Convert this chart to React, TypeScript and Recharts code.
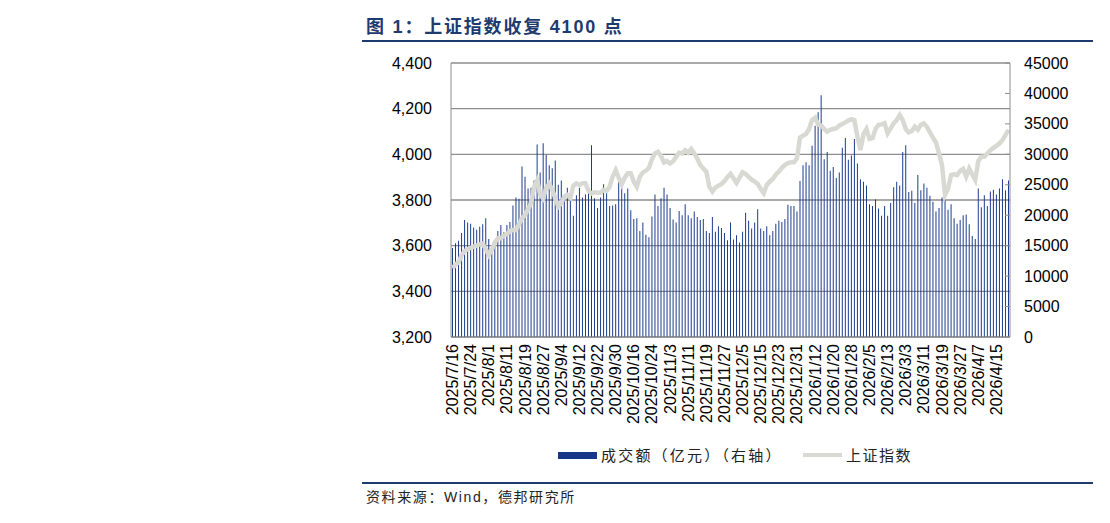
import { ComposedChart, Bar, Line, XAxis, YAxis, CartesianGrid } from "recharts";

// trading days, month -> days
const tradingDays: [string, number[]][] = [
  ["2025/7", [16, 17, 18, 21, 22, 23, 24, 25, 28, 29, 30, 31]],
  ["2025/8", [1, 4, 5, 6, 7, 8, 11, 12, 13, 14, 15, 18, 19, 20, 21, 22, 25, 26, 27, 28, 29]],
  ["2025/9", [1, 2, 3, 4, 5, 8, 9, 10, 11, 12, 15, 16, 17, 18, 19, 22, 23, 24, 25, 26, 29, 30]],
  ["2025/10", [9, 10, 13, 14, 15, 16, 17, 20, 21, 22, 23, 24, 27, 28, 29, 30, 31]],
  ["2025/11", [3, 4, 5, 6, 7, 10, 11, 12, 13, 14, 17, 18, 19, 20, 21, 24, 25, 26, 27, 28]],
  ["2025/12", [1, 2, 3, 4, 5, 8, 9, 10, 11, 12, 15, 16, 17, 18, 19, 22, 23, 24, 25, 26, 29, 30, 31]],
  ["2026/1", [5, 6, 7, 8, 9, 12, 13, 14, 15, 16, 19, 20, 21, 22, 23, 26, 27, 28, 29, 30]],
  ["2026/2", [2, 3, 4, 5, 6, 9, 10, 11, 12, 13, 24, 25, 26, 27]],
  ["2026/3", [2, 3, 4, 5, 6, 9, 10, 11, 12, 13, 16, 17, 18, 19, 20, 23, 24, 25, 26, 27, 30, 31]],
  ["2026/4", [1, 2, 3, 7, 8, 9, 10, 13, 14, 15, 16, 17, 20, 21]],
];
const dates = tradingDays.flatMap(([m, days]) => days.map((d) => `${m}/${d}`));

// 成交额（亿元）
const turnover = [
  14600, 15400, 15800, 17100, 19200, 18800, 18600, 18000, 17600, 18100, 18500, 19500, 16100, 14800, 15500, 17400,
  18400, 17200, 18400, 18900, 21600, 22900, 22700, 28000, 26300, 24400, 24500, 25700, 31600, 27000, 31800, 29900,
  28200, 27700, 29000, 25000, 25700, 22800, 24500, 23100, 19900, 23300, 24500, 22900, 23400, 23900, 31500, 22800,
  21200, 22900, 25100, 23600, 21500, 21600, 21800, 25900, 25200, 23600, 24400, 20800, 19400, 19500, 17400, 18800,
  16800, 16400, 19800, 23400, 21500, 22800, 24500, 23400, 21200, 19300, 18800, 20700, 20000, 21800, 20000, 19500,
  20600, 19700, 19200, 19400, 17400, 17100, 19700, 17300, 18200, 17900, 17100, 15900, 18800, 16000, 16700, 15500,
  17300, 20400, 19100, 17800, 18800, 21000, 17800, 17400, 18200, 16700, 17400, 18600, 19100, 18900, 19400, 21700,
  21500, 21500, 20600, 25600, 28200, 28700, 28200, 31400, 34700, 36900, 39700, 29200, 30400, 27300, 27900, 26100,
  27000, 31100, 32700, 29100, 29800, 32500, 28500, 25900, 25500, 24900, 21800, 21500, 22600, 21100, 19900, 21500,
  19900, 22000, 24600, 25500, 24900, 30400, 31500, 23800, 24000, 22000, 26600, 24100, 25200, 24500, 23200, 22200,
  20600, 21200, 22900, 22600, 20900, 21800, 19500, 18600, 19200, 20000, 20100, 18500, 16600, 16100, 24400, 21300,
  23300, 21500, 23900, 24200, 23400, 24400, 25900, 24100, 25700,
];

// 上证指数
const shIndex = [
  3501, 3518, 3527, 3559, 3576, 3584, 3591, 3596, 3600, 3606, 3609, 3584, 3559, 3581, 3614, 3632,
  3632, 3644, 3651, 3664, 3669, 3669, 3694, 3720, 3734, 3761, 3786, 3858, 3885, 3825, 3807, 3854,
  3871, 3844, 3810, 3771, 3786, 3815, 3822, 3810, 3863, 3873, 3866, 3873, 3873, 3840, 3829, 3834,
  3832, 3832, 3844, 3840, 3858, 3902, 3931, 3898, 3869, 3898, 3917, 3917, 3880, 3858, 3902, 3921,
  3928, 3941, 3979, 4004, 4011, 3993, 3964, 3970, 3960, 3970, 3989, 4007, 4004, 4018, 4007, 4023,
  4004, 3982, 3953, 3938, 3924, 3858, 3837, 3854, 3863, 3869, 3883, 3901, 3915, 3895, 3875, 3898,
  3921, 3914, 3901, 3889, 3880, 3871, 3848, 3830, 3866, 3880, 3892, 3912, 3924, 3941, 3953, 3962,
  3965, 3965, 3982, 4073, 4082, 4089, 4111, 4150, 4160, 4131, 4126, 4111, 4099, 4107, 4111, 4114,
  4126, 4133, 4140, 4148, 4154, 4150, 4077, 4019, 4088, 4111, 4068, 4071, 4111, 4129, 4131, 4136,
  4092, 4114, 4136, 4150, 4172, 4150, 4111, 4096, 4102, 4121, 4108, 4129, 4135, 4121, 4096, 4073,
  4052, 4004, 3953, 3822, 3850, 3909, 3912, 3909, 3927, 3936, 3902, 3938, 3912, 3888, 3970, 3989,
  3989, 4004, 4018, 4028, 4037, 4047, 4062, 4084, 4107,
];

const leftTicks = [3200, 3400, 3600, 3800, 4000, 4200, 4400];
const rightTicks = [0, 5000, 10000, 15000, 20000, 25000, 30000, 35000, 40000, 45000];

const data = dates.map((d, i) => ({ date: d, turnover: turnover[i], index: shIndex[i] }));

const NAVY = "#1F3A6E";
const BAR = "#16368A";
const LINE = "#D9D9D3";
const AXIS = "#8C8C8C";
const LATIN = "'Liberation Sans', Arial, 'Noto Sans CJK SC', sans-serif";

const DateTick = ({ x, y, payload }: any) => (
  <text
    x={x}
    y={y}
    transform={`rotate(-90 ${x} ${y})`}
    textAnchor="end"
    dominantBaseline="central"
    fontSize={16}
    fontFamily={LATIN}
    fill="#000"
  >
    {payload.value}
  </text>
);

const RightTick = ({ x, y, payload }: any) => (
  <g>
    <line x1={x - 19} x2={x - 14} y1={y} y2={y} stroke={AXIS} strokeWidth={1} />
    <text x={x} y={y} dominantBaseline="central" fontSize={16} fontFamily={LATIN} fill="#000">
      {payload.value}
    </text>
  </g>
);

export default function App() {
  return (
    <div style={{ position: "absolute", left: 0, top: 0, width: 1110, height: 523, background: "#fff", fontFamily: LATIN }}>
      <div
        style={{
          position: "absolute",
          left: 366,
          top: 12,
          fontSize: 18,
          fontWeight: 700,
          color: NAVY,
          fontFamily: "'Liberation Sans', 'Noto Sans CJK SC', sans-serif",
          whiteSpace: "nowrap",
          letterSpacing: 1.8,
        }}
      >
        图 1：上证指数收复 4100 点
      </div>
      <div style={{ position: "absolute", left: 362, top: 40, width: 731, height: 2, background: NAVY }} />

      <div style={{ position: "absolute", left: 0, top: 0 }}>
        <ComposedChart width={1110} height={523} data={data} margin={{ top: 63, right: 0, bottom: 0, left: 0 }} barCategoryGap="34%">
          <CartesianGrid yAxisId="left" vertical={false} stroke="#8E8E8E" strokeWidth={1.4} horizontalValues={leftTicks} />
          <XAxis
            dataKey="date"
            interval={5}
            height={186}
            tick={<DateTick />}
            tickLine={false}
            tickSize={0}
            tickMargin={7}
            axisLine={{ stroke: AXIS }}
          />
          <YAxis
            yAxisId="left"
            orientation="left"
            width={451}
            domain={[3200, 4400]}
            ticks={leftTicks}
            tickFormatter={(v: number) => v.toLocaleString("en-US")}
            tick={{ fontSize: 16, fill: "#000", fontFamily: LATIN }}
            tickLine={false}
            tickSize={0}
            tickMargin={19}
            axisLine={{ stroke: AXIS }}
            allowDataOverflow
          />
          <YAxis
            yAxisId="right"
            orientation="right"
            width={100}
            domain={[0, 45000]}
            ticks={rightTicks}
            tick={<RightTick />}
            tickLine={false}
            tickSize={0}
            tickMargin={14}
            axisLine={{ stroke: AXIS }}
          />
          <Bar yAxisId="right" dataKey="turnover" fill={BAR} isAnimationActive={false} />
          <Line
            yAxisId="left"
            dataKey="index"
            stroke={LINE}
            strokeWidth={4.5}
            dot={false}
            type="linear"
            isAnimationActive={false}
          />
        </ComposedChart>
      </div>

      {/* legend */}
      <div style={{ position: "absolute", left: 558, top: 452, width: 39, height: 7, background: BAR }} />
      <div
        style={{
          position: "absolute",
          left: 601,
          top: 445,
          fontSize: 15,
          color: "#222",
          fontFamily: "'Noto Sans CJK SC', sans-serif",
          whiteSpace: "nowrap",
          lineHeight: "20px",
          letterSpacing: 2.2,
        }}
      >
        成交额（亿元）（右轴）
      </div>
      <div style={{ position: "absolute", left: 803, top: 453, width: 39, height: 4, background: LINE }} />
      <div
        style={{
          position: "absolute",
          left: 846,
          top: 445,
          fontSize: 15,
          color: "#222",
          fontFamily: "'Noto Sans CJK SC', sans-serif",
          whiteSpace: "nowrap",
          lineHeight: "20px",
          letterSpacing: 1.5,
        }}
      >
        上证指数
      </div>

      {/* source */}
      <div style={{ position: "absolute", left: 362, top: 482, width: 731, height: 1.5, background: NAVY }} />
      <div
        style={{
          position: "absolute",
          left: 366,
          top: 488,
          fontSize: 14,
          color: "#222",
          fontFamily: "'Liberation Sans', 'Noto Sans CJK SC', sans-serif",
          whiteSpace: "nowrap",
          lineHeight: "18px",
          letterSpacing: 1.6,
        }}
      >
        资料来源：Wind，德邦研究所
      </div>
    </div>
  );
}
